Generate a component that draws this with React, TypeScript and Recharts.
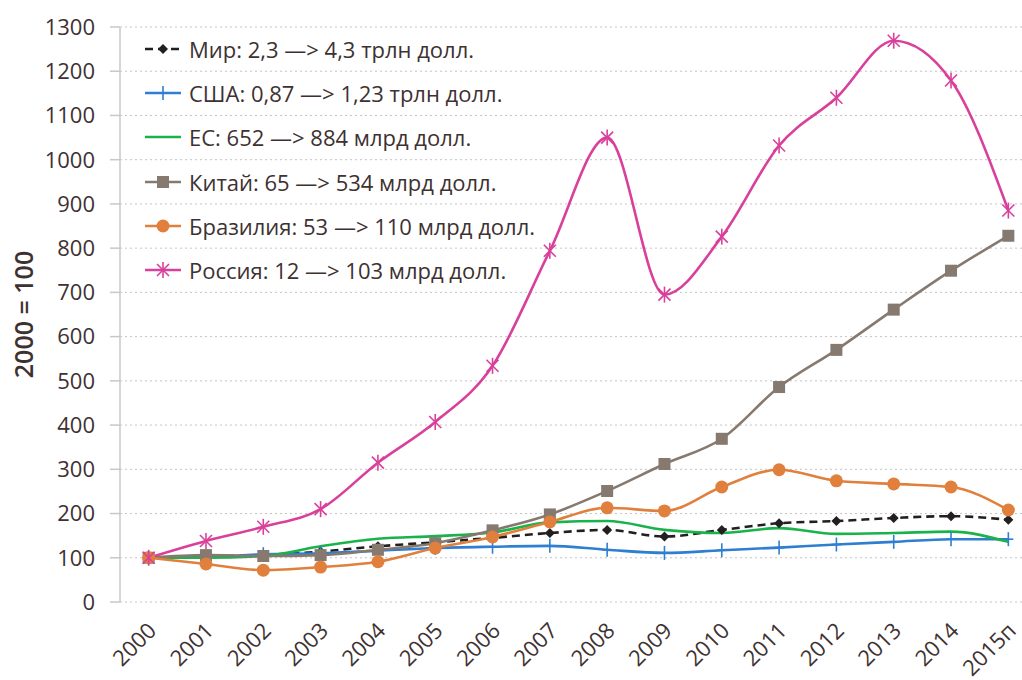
import React from "react";
import { LineChart, Line, XAxis, YAxis, CartesianGrid } from "recharts";

const years = ["2000", "2001", "2002", "2003", "2004", "2005", "2006", "2007", "2008", "2009", "2010", "2011", "2012", "2013", "2014", "2015п"];
const world = [100, 103, 106, 114, 126, 135, 145, 156, 163, 148, 163, 178, 183, 190, 194, 186];
const usa = [100, 101, 108, 110, 116, 122, 125, 127, 118, 111, 117, 123, 130, 136, 142, 142];
const eu = [100, 100, 104, 126, 143, 149, 157, 180, 183, 163, 156, 167, 154, 156, 159, 136];
const china = [100, 106, 104, 106, 118, 133, 162, 198, 251, 312, 369, 486, 570, 661, 749, 828];
const brazil = [100, 86, 72, 79, 91, 122, 147, 181, 213, 206, 260, 299, 274, 267, 260, 208];
const russia = [100, 138, 170, 210, 315, 407, 534, 794, 1050, 695, 826, 1032, 1140, 1269, 1179, 885];
const yTicks = [0, 100, 200, 300, 400, 500, 600, 700, 800, 900, 1000, 1100, 1200, 1300];

const FONT = "'Open Sans', sans-serif";
const TEXT = "#3e3131";

const data = years.map((year, i) => ({
  x: i,
  year,
  world: world[i],
  usa: usa[i],
  eu: eu[i],
  china: china[i],
  brazil: brazil[i],
  russia: russia[i],
}));

const labelTicks = years.map((_, i) => i);
const boundaryTicks = [...years.map((_, i) => i - 0.5), years.length - 0.5];

// marker shapes
const Diamond = ({ cx, cy }: any) => (
  <polygon points={`${cx},${cy - 5} ${cx + 5},${cy} ${cx},${cy + 5} ${cx - 5},${cy}`} fill="#231f20" />
);
const Plus = ({ cx, cy }: any) => (
  <g stroke="#2e7fd1" strokeWidth={1.6}>
    <line x1={cx} y1={cy - 7} x2={cx} y2={cy + 7} />
    <line x1={cx - 5} y1={cy} x2={cx + 5} y2={cy} />
  </g>
);
const Square = ({ cx, cy }: any) => <rect x={cx - 6} y={cy - 6} width={12} height={12} fill="#857970" />;
const Circle = ({ cx, cy }: any) => <circle cx={cx} cy={cy} r={6.5} fill="#e0803c" />;
const Star = ({ cx, cy }: any) => (
  <g stroke="#d9409b" strokeWidth={1.6}>
    <line x1={cx - 6} y1={cy - 6} x2={cx + 6} y2={cy + 6} />
    <line x1={cx - 6} y1={cy + 6} x2={cx + 6} y2={cy - 6} />
    <line x1={cx} y1={cy - 8} x2={cx} y2={cy + 8} />
  </g>
);

const series = [
  { key: "world", name: "Мир: 2,3 —> 4,3 трлн долл.", color: "#231f20", dash: "8 5", Marker: Diamond },
  { key: "usa", name: "США: 0,87 —> 1,23 трлн долл.", color: "#2e7fd1", dash: undefined, Marker: Plus },
  { key: "eu", name: "ЕС: 652 —> 884 млрд долл.", color: "#19b24b", dash: undefined, Marker: null },
  { key: "china", name: "Китай: 65 —> 534 млрд долл.", color: "#857970", dash: undefined, Marker: Square },
  { key: "brazil", name: "Бразилия: 53 —> 110 млрд долл.", color: "#e0803c", dash: undefined, Marker: Circle },
  { key: "russia", name: "Россия: 12 —> 103 млрд долл.", color: "#d9409b", dash: undefined, Marker: Star },
];

const YearTick = ({ x, y, payload }: any) => (
  <g transform={`translate(${x + 9},${y + 22})`}>
    <text transform="rotate(-45)" textAnchor="end" fill={TEXT} fontSize={22} fontFamily={FONT}>
      {years[payload.value]}
    </text>
  </g>
);

const AxisTitle = ({ viewBox }: any) => {
  const cx = 23;
  const cy = viewBox.y + viewBox.height / 2;
  return (
    <text
      x={cx}
      y={cy}
      transform={`rotate(-90, ${cx}, ${cy})`}
      textAnchor="middle"
      dominantBaseline="central"
      fill={TEXT}
      fontSize={25}
      fontWeight={600}
      fontFamily={FONT}
    >
      2000 = 100
    </text>
  );
};

const LegendBox = () => (
  <div style={{ position: "absolute", left: 143, top: 27, fontFamily: FONT, fontSize: 22, color: TEXT }}>
    {series.map((s) => (
      <div key={s.key} style={{ height: 44.2, display: "flex", alignItems: "center", whiteSpace: "nowrap" }}>
        <svg width={40} height={20} style={{ marginRight: 6 }}>
          <line x1={2} y1={10} x2={38} y2={10} stroke={s.color} strokeWidth={2.5} strokeDasharray={s.dash} />
          {s.Marker ? <s.Marker cx={20} cy={10} /> : null}
        </svg>
        <span>{s.name}</span>
      </div>
    ))}
  </div>
);

export default function App() {
  return (
    <div style={{ position: "absolute", left: 0, top: 0, width: 1022, height: 680, overflow: "hidden", background: "#fff" }}>
      <LineChart width={1050} height={680} data={data} margin={{ top: 27, right: 13, left: 0, bottom: 0 }}>
        <CartesianGrid vertical={false} stroke="#c4c4c4" strokeDasharray="2 3" />
        <XAxis
          xAxisId="grid"
          dataKey="x"
          type="number"
          domain={[-0.5, 15.5]}
          ticks={boundaryTicks}
          tick={false}
          tickSize={9}
          height={0}
          stroke="#c8c8c8"
          strokeWidth={1.5}
        />
        <XAxis
          xAxisId="lab"
          dataKey="x"
          type="number"
          domain={[-0.5, 15.5]}
          ticks={labelTicks}
          interval={0}
          tick={<YearTick />}
          tickLine={false}
          axisLine={false}
          height={78}
        />
        <YAxis
          width={120}
          domain={[0, 1300]}
          ticks={yTicks}
          interval={0}
          tickSize={10}
          tickMargin={15}
          stroke="#c8c8c8"
          strokeWidth={1.5}
          tick={{ fill: TEXT, fontSize: 22, fontFamily: FONT }}
          label={{ content: AxisTitle }}
        />
        {series.map((s) => (
          <Line
            key={s.key}
            xAxisId="lab"
            type="monotone"
            dataKey={s.key}
            stroke={s.color}
            strokeWidth={2.6}
            strokeDasharray={s.dash}
            dot={s.Marker ? (p: any) => <s.Marker key={p.key} cx={p.cx} cy={p.cy} /> : false}
            activeDot={false}
            isAnimationActive={false}
          />
        ))}
      </LineChart>
      <LegendBox />
    </div>
  );
}
